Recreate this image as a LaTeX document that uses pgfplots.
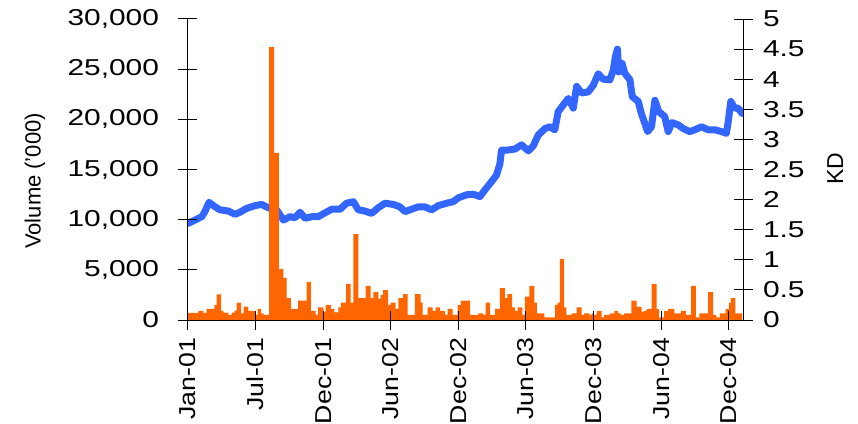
\documentclass[border=0pt]{standalone}
\usepackage{fontspec}
\setmainfont{Liberation Sans}
\newfontfamily\yfont{Liberation Sans}[FakeStretch=1.3]
\newfontfamily\xfont{Liberation Sans}[FakeStretch=1.16]
\usepackage{pgfplots}
\pgfplotsset{compat=1.18}
\definecolor{kdblue}{RGB}{51,102,255}
\definecolor{volorange}{RGB}{255,102,0}
\begin{document}
\begin{tikzpicture}
% KD (right axis) with price line
\begin{axis}[
  at={(0pt,0pt)}, anchor=south west,
  width=555pt, height=301pt, scale only axis,
  xmin=0, xmax=213.5, ymin=0, ymax=5,
  axis x line=none, axis y line*=right,
  axis line style={-, black, line width=1pt},
  major tick style={black, line width=1pt},
  tick align=center, major tick length=19pt,
  ytick={0,0.5,1,1.5,2,2.5,3,3.5,4,4.5,5},
  yticklabels={0,0.5,1,1.5,2,2.5,3,3.5,4,4.5,5},
  yticklabel style={font=\yfont\fontsize{23}{23}\selectfont, anchor=west, xshift=7pt},
  ylabel={KD},
  every axis y label/.style={at={(axis description cs:1.166,0.502)}, rotate=90, anchor=center, font=\fontsize{23}{23}\selectfont},
]
\addplot[kdblue, line width=7pt, line join=round, line cap=round] coordinates {
(0.1,1.606) (2.7,1.66) (5.3,1.716) (6.5,1.80) (8.1,1.955) (10.4,1.88) (12.3,1.83)
(15.5,1.81) (18.1,1.756) (20.0,1.79) (22.6,1.855) (25.8,1.90) (28.3,1.92) (30.9,1.865)
(34.1,1.83) (36.7,1.66) (39.2,1.716) (41.2,1.70) (43.1,1.79) (45.0,1.69) (47.6,1.716)
(50.1,1.716) (52.7,1.78) (55.3,1.84) (58.5,1.84) (61.0,1.94) (63.6,1.965) (65.5,1.83)
(68.1,1.81) (70.6,1.77) (73.2,1.865) (75.8,1.94) (79.0,1.92) (81.5,1.88) (83.5,1.80)
(86.0,1.84) (88.6,1.88) (91.1,1.88) (93.7,1.83) (96.3,1.90) (99.5,1.94) (102.0,1.965)
(104.0,2.03) (107.2,2.08) (109.7,2.09) (112.3,2.05) (114.2,2.16) (116.8,2.30) (118.7,2.41)
(120.0,2.60) (120.6,2.82) (122.5,2.82) (125.8,2.84) (128.3,2.91) (130.9,2.81) (132.8,2.89)
(134.7,3.07) (137.3,3.18) (139.2,3.21) (141.1,3.16) (142.4,3.46) (144.3,3.57) (146.3,3.68)
(148.2,3.52) (149.5,3.88) (151.4,3.77) (154.0,3.79) (155.9,3.90) (157.8,4.09) (159.7,4.00)
(162.3,3.99) (163.6,4.15) (164.4,4.37) (165.2,4.50) (165.7,4.12) (167.0,4.26) (168.0,4.10)
(170.0,3.99) (170.9,3.71) (173.2,3.63) (174.4,3.43) (175.7,3.27) (176.8,3.13) (178.3,3.21)
(179.6,3.65) (181.1,3.46) (183.4,3.38) (184.7,3.13) (186.2,3.28) (188.6,3.24) (190.5,3.18)
(193.0,3.13) (195.0,3.16) (197.5,3.21) (200.1,3.16) (202.7,3.16) (205.2,3.13) (207.1,3.10)
(207.8,3.29) (208.8,3.63) (210.3,3.52) (211.6,3.52) (213.2,3.43)
};
\end{axis}
% Volume (left axis) with bars
\begin{axis}[
  at={(0pt,0pt)}, anchor=south west,
  width=555pt, height=301pt, scale only axis,
  xmin=0, xmax=213.5, ymin=0, ymax=30000,
  scaled y ticks=false,
  axis x line*=bottom, axis y line*=left,
  axis line style={-, black, line width=1pt},
  major tick style={black, line width=1pt},
  tick align=center, major tick length=19pt,
  axis on top,
  x tick label as interval=false,
  xtick={0,26,52,78,104,130,156,182,208},
  xticklabels={Jan-01,Jul-01,Dec-01,Jun-02,Dec-02,Jun-03,Dec-03,Jun-04,Dec-04},
  xticklabel style={font=\xfont\fontsize{23}{23}\selectfont, rotate=90, anchor=east, xshift=-5pt},
  ytick={0,5000,10000,15000,20000,25000,30000},
  yticklabels={0,{5,000},{10,000},{15,000},{20,000},{25,000},{30,000}},
  yticklabel style={font=\yfont\fontsize{23}{23}\selectfont, anchor=east, xshift=-16pt},
  ylabel={Volume ('000)},
  every axis y label/.style={at={(axis description cs:-0.2757,0.462)}, rotate=90, anchor=center, font=\fontsize{22}{22}\selectfont},
]
\addplot[ybar interval, fill=volorange, draw=none] coordinates {
(0,700) (4.0,900) (5.9,700) (7.2,1100) (10.1,1500) (11.0,2550) (12.7,900) (13.6,730)
(15.5,500) (16.8,730) (17.8,900) (18.7,1730) (20.4,670) (21.4,1330) (23.2,900) (25.8,500)
(26.8,1100) (28.1,670) (29.1,500) (31.2,27200) (33.1,16650) (35.0,5100) (36.7,4200)
(37.9,2170) (39.6,1100) (42.4,1930) (45.6,3770) (47.3,900) (49.1,500) (50.1,1270)
(52.1,830) (52.9,1500) (55.0,1100) (56.3,770) (57.8,1270) (58.8,1730) (60.8,3600)
(62.6,1730) (63.6,8570) (65.5,2170) (68.3,3400) (70.3,2170) (71.3,2770) (73.2,2100)
(74.1,2500) (75.1,2970) (77.0,1500) (77.9,1730) (79.9,1100) (80.9,2170) (82.8,2570)
(84.5,500) (87.3,2570) (89.5,1730) (90.3,500) (92.2,1270) (94.1,900) (95.3,1270)
(96.9,900) (98.8,500) (99.9,1100) (101.8,500) (103.7,1500) (105.0,1930) (108.5,500)
(111.7,670) (113.6,500) (114.5,1730) (116.2,500) (118.1,1100) (120.0,3170) (121.9,2170)
(122.9,2570) (124.7,1270) (125.8,900) (126.8,1270) (128.6,500) (129.6,2330) (131.3,3400)
(133.2,1730) (134.2,670) (137.1,270) (141.2,1500) (142.2,1730) (143.1,6070) (144.7,1270)
(145.6,500) (147.6,670) (149.5,1270) (151.4,500) (152.4,670) (154.4,500) (155.3,670)
(156.2,500) (157.2,900) (159.1,270) (160.1,500) (162.3,670) (164.0,900) (165.5,670)
(166.5,500) (167.8,670) (170.6,1930) (172.6,1300) (174.5,830) (175.5,900) (176.4,1100)
(178.3,3600) (180.3,1100) (181.2,270) (183.2,900) (184.7,1100) (187.1,670) (189.6,900)
(191.5,500) (193.5,3400) (195.4,270) (196.7,670) (200.1,2770) (202.0,500) (203.3,270)
(204.6,670) (206.8,1100) (208.2,1730) (208.8,2170) (210.6,670) (213.2,0)
};
\end{axis}
\pgfresetboundingbox
\useasboundingbox (-188pt,-103pt) rectangle (670pt,320pt);
\end{tikzpicture}
\end{document}
